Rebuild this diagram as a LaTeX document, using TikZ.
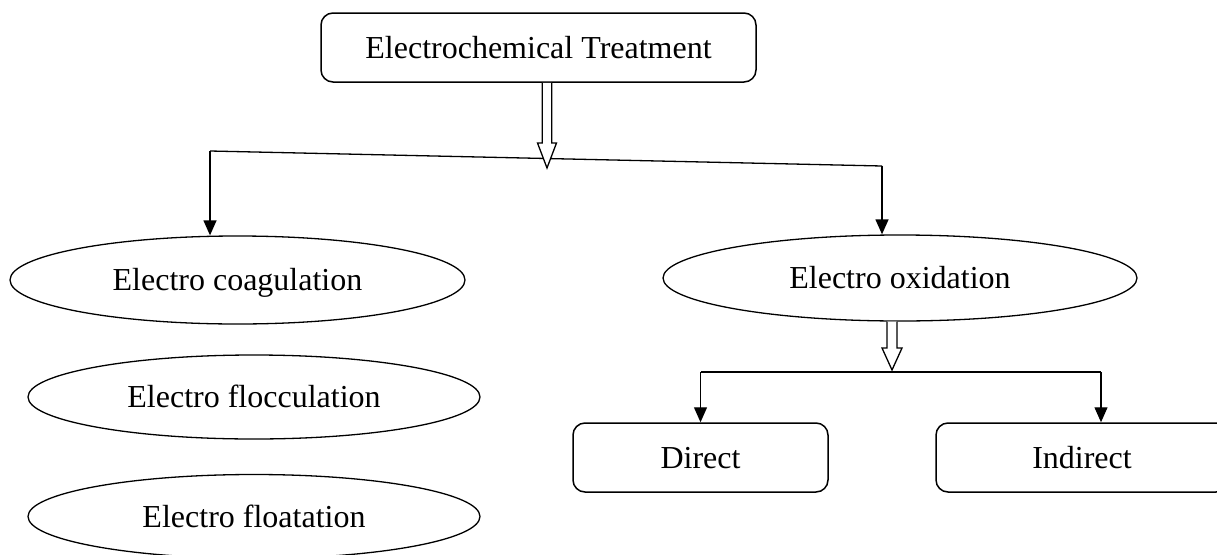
\documentclass[tikz,border=0pt]{standalone}
\usepackage{fontspec}
\setmainfont{Liberation Serif}
\usetikzlibrary{arrows.meta,shapes.geometric,calc}
\newcommand\hollowarrow[6]{% start, tip, shaft half, head half, head length
  \draw[hollowline] ($(#1)+(-#3,0)$) -- ($(#2)+(-#3,-#5)$) -- ($(#2)+(-#4,-#5)$) -- (#2)
    -- ($(#2)+(#4,-#5)$) -- ($(#2)+(#3,-#5)$) -- ($(#1)+(#3,0)$);}
\begin{document}
\begin{tikzpicture}[x=1pt,y=-1pt,
  every node/.style={font=\fontsize{32}{38}\selectfont, text height=21pt, text depth=0pt, inner sep=0pt},
  rbox/.style={draw, line width=1.5pt, rounded corners=12pt, minimum height=69pt},
  oval/.style={draw, ellipse, line width=1.3pt},
  conn/.style={line width=1.3pt},
  arr/.style={line width=1.3pt, -{Triangle[length=15pt,width=13pt]}},
  hollowline/.style={line width=1.3pt, fill=white, line join=miter}]
\useasboundingbox (0,0) rectangle (1217,554);
\clip (0,0) rectangle (1217,554);

\node[rbox, minimum width=435pt] (top) at (538.5,47.5) {Electrochemical Treatment};

\node[oval, minimum width=455pt, minimum height=88pt] (e1) at (237.5,280) {Electro coagulation};
\node[oval, minimum width=474pt, minimum height=86pt] (e2) at (900,278) {Electro oxidation};
\node[oval, minimum width=452pt, minimum height=84pt] (e3) at (254,397) {Electro flocculation};
\node[oval, minimum width=452pt, minimum height=84pt] (e4) at (254,516.5) {Electro floatation};

\node[rbox, minimum width=255pt] (direct) at (700.5,457.5) {Direct};
\node[rbox, minimum width=292pt] (indirect) at (1082,457.5) {Indirect};

% branch from the top box
\coordinate (L) at (210,151);
\coordinate (R) at (882,166);
\draw[conn] (L) -- (R);
\draw[arr] (L) -- (L |- e1.north);
\draw[arr] (R) -- (R |- e2.north);
\coordinate (a1) at ([xshift=8.5pt]top.south);
\coordinate (t1) at (547,168);
\hollowarrow{a1}{t1}{4.7}{9.5}{25}{}

% branch from oxidation
\coordinate (D) at (700.5,372);
\coordinate (I) at (1101,372);
\draw[conn] (D) -- (I);
\draw[arr] (D) -- (direct.north);
\draw[arr] (I) -- (I |- indirect.north);
\coordinate (a2) at ([xshift=-8pt]e2.south);
\coordinate (t2) at (892,370);
\hollowarrow{a2}{t2}{5}{10}{22}{}
\end{tikzpicture}
\end{document}
